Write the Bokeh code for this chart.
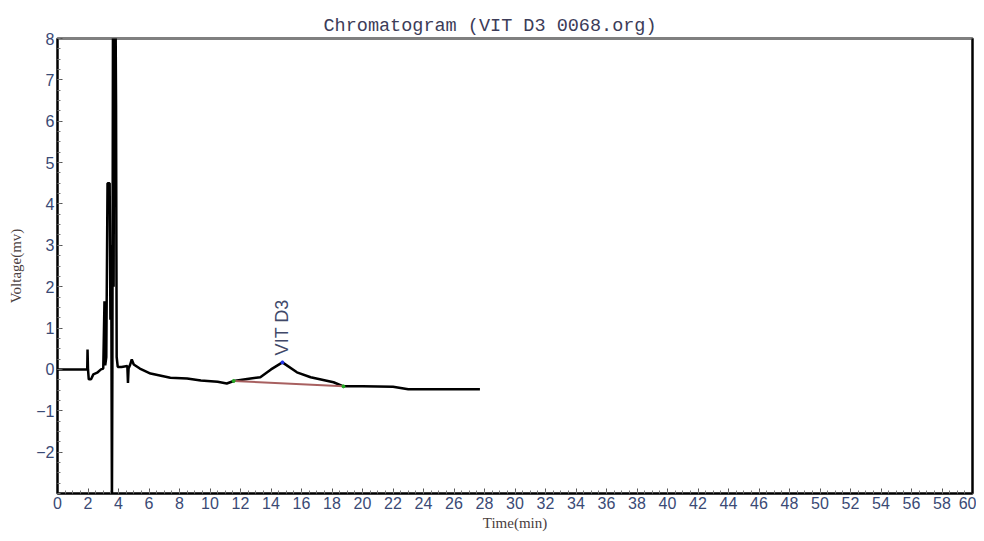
import numpy as np
from bokeh.plotting import figure
from bokeh.models import Range1d, FixedTicker, LinearAxis, ColumnDataSource
from bokeh.core.properties import value
from bokeh.embed import file_html
from bokeh.resources import INLINE

# ---- data ----
time_min = [0.0, 1.95, 1.97, 2.0, 2.05, 2.2, 2.35, 2.6, 2.85, 3.0, 3.08, 3.13, 3.2,
             3.28, 3.42, 3.47, 3.52, 3.57, 3.6, 3.64, 3.68, 3.72, 3.76, 3.8, 3.84,
             3.88, 3.95, 4.2, 4.58, 4.62, 4.66, 4.75, 4.87, 5.0, 5.4, 6.1, 7.4, 8.5,
             9.4, 10.5, 11.1, 11.55, 12.66, 13.3, 14.0, 14.75, 15.7, 16.6, 18.1,
             18.75, 20.0, 22.0, 23.0, 25.0, 27.7]
voltage_mv = [0.0, 0.0, 0.48, 0.0, -0.24, -0.24, -0.12, -0.08, 0.0, 0.02, 1.65, 0.1, 0.3,
              4.5, 4.5, 1.2, 3.0, -3.4, 0.2, 9.0, 2.0, 9.0, 5.0, 9.0, 6.4,
              0.3, 0.06, 0.06, 0.08, -0.33, 0.02, 0.1, 0.24, 0.12, 0.02, -0.1, -0.2, -0.22,
              -0.27, -0.3, -0.34, -0.28, -0.22, -0.19, 0.0, 0.17, -0.07, -0.19, -0.31,
              -0.41, -0.41, -0.42, -0.48, -0.48, -0.48]

peak_name = ["VIT D3"]
peak_time = [14.75]
peak_mv = [0.17]
base_time = [11.55, 18.75]
base_mv = [-0.28, -0.41]

x_ticks = list(range(0, 61, 2))
y_ticks = [-2, -1, 0, 1, 2, 3, 4, 5, 6, 7, 8]

TICK_COLOR = "#3a4a75"

p = figure(width=976, height=533, output_backend="svg", toolbar_location=None,
           x_range=Range1d(0, 60), y_range=Range1d(-3, 8),
           min_border_left=57, min_border_right=4, min_border_top=38,
           min_border_bottom=40)

p.title.text = "Chromatogram (VIT D3 0068.org)"
p.title.align = "left"
p.title.offset = 266
p.title.text_font = "Liberation Mono"
p.title.text_font_size = "18.5px"
p.title.text_font_style = "normal"
p.title.text_color = "#3c3c58"
p.title.standoff = 4

p.grid.visible = False
p.background_fill_color = "white"
p.border_fill_color = "white"
p.outline_line_color = "#808080"
p.outline_line_width = 3

for ax in (p.xaxis[0], p.yaxis[0]):
    ax.axis_line_color = "black"
    ax.axis_line_width = 2
    ax.major_tick_in = 5
    ax.major_tick_out = 0
    ax.minor_tick_in = 3
    ax.minor_tick_out = 0
    ax.major_tick_line_color = "#555555"
    ax.minor_tick_line_color = "#777777"
    ax.major_label_text_font = "Liberation Sans"
    ax.major_label_text_font_size = "16px"
    ax.major_label_text_color = TICK_COLOR
    ax.major_label_standoff = 3
    ax.axis_label_text_font = "Liberation Serif"
    ax.axis_label_text_font_size = "15px"
    ax.axis_label_text_font_style = "normal"
    ax.axis_label_text_color = "#4a4040"

p.xaxis[0].axis_label_standoff = 3
p.yaxis[0].axis_label_standoff = 9

p.xaxis[0].ticker = FixedTicker(ticks=x_ticks,
                                minor_ticks=list(np.arange(0, 60.01, 0.5)))
p.yaxis[0].ticker = FixedTicker(ticks=y_ticks,
                                minor_ticks=list(np.arange(-3, 8.01, 0.25)))
p.xaxis[0].axis_label = "Time(min)"
p.yaxis[0].axis_label = "Voltage(mv)"

right = LinearAxis(major_tick_line_color=None, minor_tick_line_color=None,
                   major_label_text_font_size="0px", axis_line_color="black",
                   axis_line_width=2)
right.ticker = FixedTicker(ticks=[])
p.add_layout(right, "right")

# trace
p.line(time_min, voltage_mv, line_color="black", line_width=2.5)
# integration baseline
p.line(base_time, base_mv, line_color="#a86060", line_width=2)
p.scatter(base_time, base_mv, size=3, color="#22aa22")
p.scatter(peak_time, peak_mv, size=3, color="#2233ee")
# peak label
src = ColumnDataSource(dict(x=peak_time, y=peak_mv, t=peak_name))
p.text(x="x", y="y", text="t", source=src, angle=np.pi / 2,
       text_align="left", text_baseline="middle", y_offset=-7,
       text_font=value("Liberation Sans"), text_font_size="18px",
       text_color="#404868")

open("out.html", "w").write(file_html(p, INLINE))
